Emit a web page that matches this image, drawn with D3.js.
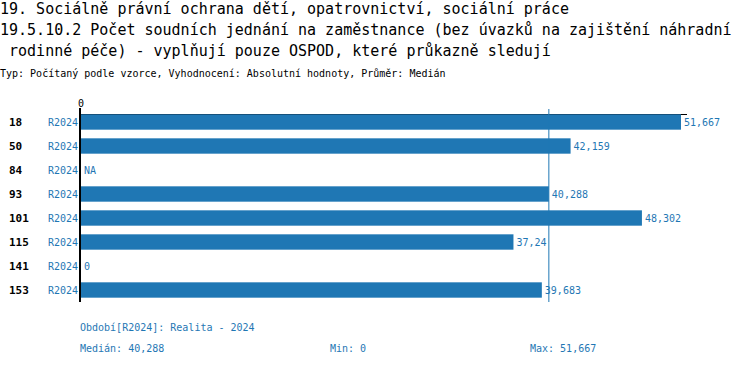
<!DOCTYPE html>
<html>
<head>
<meta charset="utf-8">
<script src="https://cdn.jsdelivr.net/npm/d3@7"></script>
<style>
  body { margin: 0; background: #fff; }
  svg text { font-family: "DejaVu Sans Mono", "Liberation Mono", monospace; }
</style>
</head>
<body>
<svg id="chart" width="750" height="366"></svg>
<script>
// data
const categories = ["18", "50", "84", "93", "101", "115", "141", "153"];
const period = "R2024";
const values = [51.667, 42.159, null, 40.288, 48.302, 37.24, 0, 39.683];
const title_lines = [
  "19. Sociálně právní ochrana dětí, opatrovnictví, sociální práce",
  "19.5.10.2 Počet soudních jednání na zaměstnance (bez úvazků na zajištění náhradní",
  " rodinné péče) - vyplňují pouze OSPOD, které průkazně sledují"
];
const subtitle = "Typ: Počítaný podle vzorce, Vyhodnocení: Absolutní hodnoty, Průměr: Medián";
const legend_text = "Období[R2024]: Realita - 2024";

const blue = "#1f77b4";
const svg = d3.select("#chart");

const fmt = (v) => {
  if (v === null) return "NA";
  return String(+v.toFixed(3)).replace(".", ",");
};

const known = values.filter(v => v !== null);
const median = d3.median(known);
const min_v = d3.min(known);
const max_v = d3.max(known);

// titles
svg.selectAll(".title")
  .data(title_lines)
  .enter()
  .append("text")
  .attr("class", "title")
  .attr("x", 0)
  .attr("y", (d, i) => 14 + i * 21)
  .attr("xml:space", "preserve")
  .style("font-size", "15px")
  .style("white-space", "pre")
  .text(d => d);

svg.append("text")
  .attr("x", 0)
  .attr("y", 77)
  .style("font-size", "10px")
  .text(subtitle);

const x_scale = d3.scaleLinear()
  .domain([0, max_v * 1.01])
  .range([81, 687]);

const y_scale = d3.scaleBand()
  .domain(categories)
  .range([110, 302])
  .paddingInner(0.36)
  .paddingOuter(0.18);

// top axis line + zero tick
svg.append("line")
  .attr("x1", x_scale(0)).attr("x2", x_scale.range()[1])
  .attr("y1", 114.5).attr("y2", 114.5)
  .style("stroke", "#000").style("stroke-width", 1);

svg.append("text")
  .attr("x", x_scale(0))
  .attr("y", 107)
  .attr("text-anchor", "middle")
  .style("font-size", "10px")
  .text("0");

const rows = categories.map((c, i) => ({cat: c, value: values[i]}));

svg.selectAll(".bar")
  .data(rows.filter(d => d.value !== null && d.value > 0))
  .enter()
  .append("rect")
  .attr("class", "bar")
  .attr("x", x_scale(0))
  .attr("y", d => y_scale(d.cat))
  .attr("width", d => x_scale(d.value) - x_scale(0))
  .attr("height", y_scale.bandwidth())
  .style("fill", blue);

// median line
svg.append("line")
  .attr("x1", x_scale(median)).attr("x2", x_scale(median))
  .attr("y1", 109).attr("y2", 302)
  .style("stroke", blue).style("stroke-width", 1);

// vertical axis
svg.append("line")
  .attr("x1", 80).attr("x2", 80)
  .attr("y1", 108).attr("y2", 302)
  .style("stroke", "#000").style("stroke-width", 2);

const mid = (d) => y_scale(d.cat) + y_scale.bandwidth() / 2;

svg.selectAll(".cat")
  .data(rows)
  .enter()
  .append("text")
  .attr("class", "cat")
  .attr("x", 9)
  .attr("y", d => mid(d))
  .attr("dy", "0.35em")
  .style("font-size", "11px")
  .style("font-weight", "bold")
  .text(d => d.cat);

svg.selectAll(".per")
  .data(rows)
  .enter()
  .append("text")
  .attr("class", "per")
  .attr("x", 78)
  .attr("y", d => mid(d))
  .attr("dy", "0.35em")
  .attr("text-anchor", "end")
  .style("font-size", "10px")
  .style("fill", blue)
  .text(period);

svg.selectAll(".val")
  .data(rows)
  .enter()
  .append("text")
  .attr("class", "val")
  .attr("x", d => x_scale(d.value === null ? 0 : d.value) + 3)
  .attr("y", d => mid(d))
  .attr("dy", "0.35em")
  .style("font-size", "10px")
  .style("fill", blue)
  .text(d => fmt(d.value));

// footer
svg.append("text")
  .attr("x", 80).attr("y", 331)
  .style("font-size", "10px").style("fill", blue)
  .text(legend_text);

const stats = [
  {label: "Medián: " + fmt(median), x: 80},
  {label: "Min: " + fmt(min_v), x: 330},
  {label: "Max: " + fmt(max_v), x: 530}
];

svg.selectAll(".stat")
  .data(stats)
  .enter()
  .append("text")
  .attr("class", "stat")
  .attr("x", d => d.x).attr("y", 352)
  .style("font-size", "10px").style("fill", blue)
  .text(d => d.label);
</script>
</body>
</html>
